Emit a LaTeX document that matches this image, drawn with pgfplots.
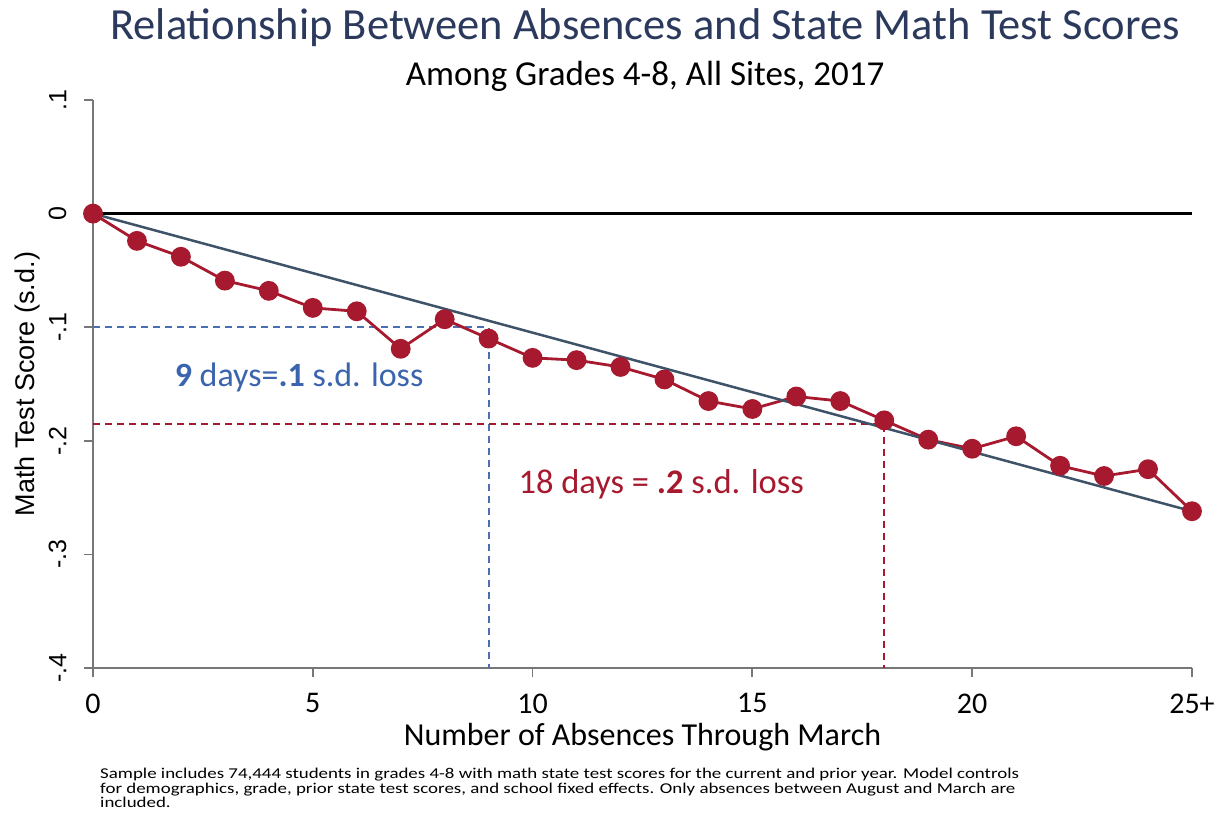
\documentclass[border=0pt]{standalone}
\usepackage{fontspec}
\setmainfont{Carlito}
\newfontfamily\arialfont{Liberation Sans}
\newfontfamily\footfont[FakeStretch=1.26]{Carlito}
\usepackage{pgfplots}
\pgfplotsset{compat=1.18}
\definecolor{ptred}{HTML}{A6192E}
\definecolor{fitblue}{HTML}{3E5268}
\definecolor{dashblue}{HTML}{4A6FB5}
\definecolor{txtblue}{HTML}{3B64AE}
\definecolor{titlecol}{HTML}{2B3A5C}
\definecolor{axgray}{HTML}{777777}
\begin{document}
\begin{tikzpicture}
\path[use as bounding box] (0,0) rectangle (1221pt,815pt);
\node[font=\fontsize{44.5}{48}\selectfont, text=titlecol] at (645pt,787pt) {Relationship Between Absences and State Math Test Scores};
\node[font=\fontsize{35}{38}\selectfont] at (645pt,739pt) {Among Grades 4-8, All Sites, 2017};
\begin{axis}[
 at={(93pt,147pt)}, anchor=south west,
 scale only axis, width=1099pt, height=568pt,
 xmin=0, xmax=25, ymin=-0.4, ymax=0.1,
 axis x line=bottom, axis y line=left,
 axis line style={-, axgray, line width=1.8pt},
 tick align=outside, major tick length=9pt,
 tick style={axgray, line width=1.8pt},
 xtick={0,5,10,15,20,25}, xticklabels={0,5,10,15,20,25+},
 ytick={-0.4,-0.3,-0.2,-0.1,0,0.1}, yticklabels={-.4,-.3,-.2,-.1,0,.1},
 xticklabel style={font=\fontsize{30}{33}\selectfont, yshift=-13pt},
 yticklabel style={font=\arialfont\fontsize{25}{27}\selectfont, rotate=90, anchor=south, yshift=14pt},
 clip=false,
 xlabel={Number of Absences Through March},
 ylabel={Math Test Score (s.d.)},
 xlabel style={font=\fontsize{32}{35}\selectfont, at={(axis description cs:0.5,0)}, yshift=-69pt, anchor=center},
 ylabel style={font=\arialfont\fontsize{27}{30}\selectfont, at={(axis description cs:0,0.5)}, yshift=65pt, anchor=center},
]
\addplot[dashblue, line width=1.8pt, dash pattern=on 7pt off 5pt] coordinates {(0,-0.1) (9,-0.1) (9,-0.4)};
\addplot[ptred, line width=1.8pt, dash pattern=on 7pt off 5pt] coordinates {(0,-0.1855) (18,-0.1855) (18,-0.4)};
\addplot[ptred, line width=2.8pt, mark=*, mark size=8.5pt, mark options={fill=ptred, draw=ptred, solid}] coordinates {
(0,0) (1,-0.024) (2,-0.038) (3,-0.059) (4,-0.068) (5,-0.083) (6,-0.086) (7,-0.119) (8,-0.093) (9,-0.110)
(10,-0.127) (11,-0.129) (12,-0.135) (13,-0.146) (14,-0.165) (15,-0.172) (16,-0.161) (17,-0.165) (18,-0.182)
(19,-0.199) (20,-0.207) (21,-0.196) (22,-0.222) (23,-0.231) (24,-0.225) (25,-0.262)};
\addplot[fitblue, line width=2.5pt] coordinates {(0,0) (25,-0.262)};
\addplot[black, line width=3.5pt] coordinates {(0,0) (25,0)};
\node[anchor=west, text=txtblue, font=\fontsize{34}{37}\selectfont] at (axis cs:1.78,-0.144) {\textbf{9} days=\textbf{.1} s.d. loss};
\node[anchor=west, text=ptred, font=\fontsize{34.5}{37}\selectfont] at (axis cs:9.6,-0.238) {18 days = \textbf{.2} s.d. loss};
\end{axis}
\node[anchor=north west, align=left, font=\footfont\fontsize{15}{14.5}\selectfont, inner sep=0pt] at (100pt,47pt) {Sample includes 74,444 students in grades 4-8 with math state test scores for the current and prior year. Model controls\\for demographics, grade, prior state test scores, and school fixed effects. Only absences between August and March are\\included.};
\end{tikzpicture}
\end{document}
